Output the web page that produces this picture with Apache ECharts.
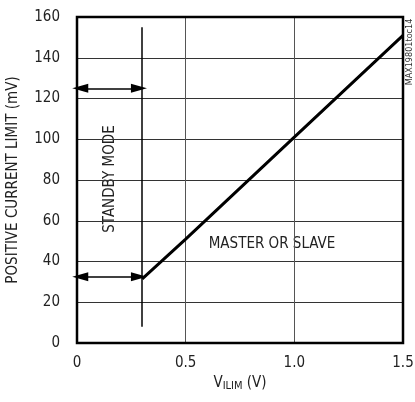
<!DOCTYPE html>
<html>
<head>
<meta charset="utf-8">
<script src="https://cdn.jsdelivr.net/npm/echarts@6/dist/echarts.min.js"></script>
<style>
  html, body { margin: 0; padding: 0; background: #fff; }
  #chart { width: 415px; height: 402px; }
</style>
</head>
<body>
<div id="chart"></div>
<script>
// data
const vIlim = [0.3, 0.5, 1.0, 1.5];
const currentLimit = [31.5, 51, 101, 151];
const standbyX = 0.3;
const standbySpan = [8, 155];
const arrowLevels = [125, 32.5];
const xTicks = [0, 0.5, 1.0, 1.5];
const yTicks = [0, 20, 40, 60, 80, 100, 120, 140, 160];

const FONT = '"DejaVu Sans Condensed", "Liberation Sans Narrow", "Liberation Sans", Arial, sans-serif';

const chart = echarts.init(document.getElementById('chart'));

chart.setOption({
    animation: false,
    grid: {left: 77, right: 12, top: 17, bottom: 59, containLabel: false, outerBoundsMode: 'none'},
    xAxis: {
        type: 'value',
        min: 0,
        max: 1.5,
        interval: 0.5,
        axisLine: {show: false},
        axisTick: {show: false},
        splitLine: {show: true, lineStyle: {color: '#555', width: 1}},
        axisLabel: {
            color: '#222',
            fontFamily: FONT,
            fontSize: 15,
            margin: 13,
            formatter: v => (v === 0 ? '0' : v.toFixed(1))
        },
        name: '{v|V}{s|ILIM}{v| (V)}',
        nameLocation: 'middle',
        nameGap: 31,
        nameTextStyle: {
            rich: {
                v: {fontFamily: FONT, fontSize: 15, color: '#222'},
                s: {fontFamily: FONT, fontSize: 11, color: '#222', padding: [6, 0, 0, 0]}
            }
        }
    },
    yAxis: {
        type: 'value',
        min: 0,
        max: 160,
        interval: 20,
        axisLine: {show: false},
        axisTick: {show: false},
        splitLine: {show: true, lineStyle: {color: '#333', width: 1}},
        axisLabel: {color: '#222', fontFamily: FONT, fontSize: 15, margin: 17},
        name: 'POSITIVE CURRENT LIMIT (mV)',
        nameLocation: 'middle',
        nameGap: 56,
        nameTextStyle: {color: '#222', fontFamily: FONT, fontSize: 15}
    },
    series: [
        {
            type: 'line',
            data: vIlim.map((x, i) => [x, currentLimit[i]]),
            symbol: 'none',
            lineStyle: {color: '#000', width: 3},
            z: 5
        },
        {
            // standby line + arrows
            type: 'line',
            data: [],
            markLine: {
                silent: true,
                animation: false,
                label: {show: false},
                data: [
                    [{coord: [standbyX, standbySpan[0]], symbol: 'none'},
                     {coord: [standbyX, standbySpan[1]], symbol: 'none'}],
                    ...arrowLevels.map(y => [
                        {coord: [0.015, y], symbol: 'triangle', symbolSize: [9, 16], symbolRotate: 90},
                        {coord: [0.285, y], symbol: 'triangle', symbolSize: [9, 16], symbolRotate: -90}
                    ])
                ],
                lineStyle: {color: '#000', width: 1.5, type: 'solid'}
            }
        }
    ],
    graphic: [
        {
            type: 'rect',
            shape: {x: 77, y: 17, width: 326, height: 326},
            style: {fill: 'none', stroke: '#000', lineWidth: 2.5},
            z: 10
        },
        {
            type: 'text',
            x: 110, y: 179,
            rotation: Math.PI / 2,
            style: {text: 'STANDBY MODE', fill: '#222', font: '15px ' + FONT, align: 'center', verticalAlign: 'middle'}
        },
        {
            type: 'text',
            x: 272, y: 244,
            style: {text: 'MASTER OR SLAVE', fill: '#222', font: '15px ' + FONT, align: 'center', verticalAlign: 'middle'}
        },
        {
            type: 'text',
            x: 410, y: 52,
            rotation: Math.PI / 2,
            style: {text: 'MAX19801toc14', fill: '#333', font: '9px ' + FONT, align: 'center', verticalAlign: 'middle'}
        }
    ]
});
</script>
</body>
</html>
